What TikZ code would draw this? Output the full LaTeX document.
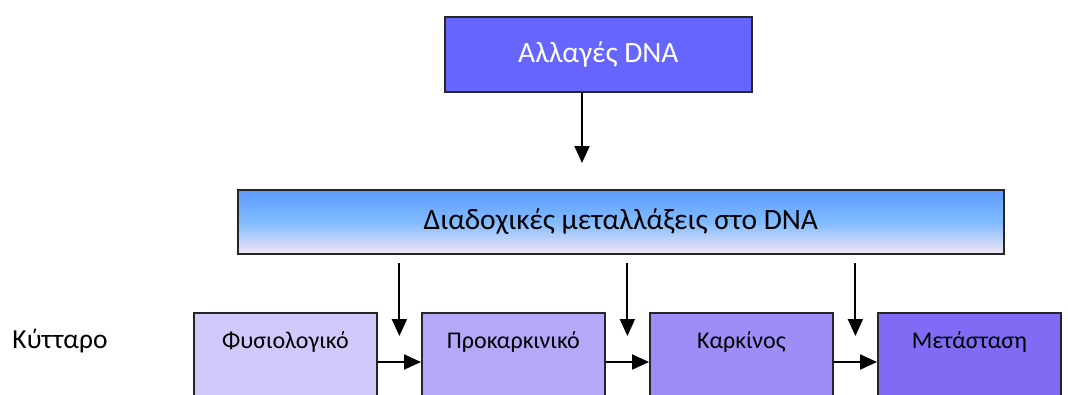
\documentclass[tikz,border=0pt]{standalone}
\usepackage{fontspec}
\setmainfont{Carlito}
\usetikzlibrary{arrows.meta,calc}

\definecolor{topblue}{HTML}{6666FF}
\definecolor{gradtop}{HTML}{5E9BFF}
\definecolor{gradmid}{HTML}{80BBFF}
\definecolor{gradbot}{HTML}{F3E6F5}
\definecolor{cellA}{HTML}{D1C9FB}
\definecolor{cellB}{HTML}{B4A8F8}
\definecolor{cellC}{HTML}{9C8EF6}
\definecolor{cellD}{HTML}{7F6BF4}

\tikzset{
  arr/.style={line width=2pt, -{Triangle[length=17pt,width=15pt]}},
  stagebox/.style={draw=black!85, line width=1.8pt, anchor=north west, inner sep=0pt,
    minimum width=183pt, text height=36pt, text depth=52pt, font=\fontsize{24}{28}\selectfont}
}

\begin{document}
\begin{tikzpicture}[x=1pt,y=-1pt]
  \useasboundingbox (0,0) rectangle (1068,394);
  \clip (0,0) rectangle (1068,394);

  % top box
  \node[draw=black!85, line width=1.8pt, fill=topblue, text=white, anchor=north west,
        minimum width=307pt, minimum height=75pt, inner sep=0pt,
        font=\fontsize{29.5}{32}\selectfont] (dna) at (444,16) {Αλλαγές DNA};
  \coordinate (dnatip) at (582,163);
  \draw[arr] (dna.south -| dnatip) -- (dnatip);

  % mutations bar
  \node[draw=black!85, line width=1.8pt, anchor=north west, minimum width=766pt,
        minimum height=64pt, inner sep=0pt, top color=gradtop, bottom color=gradbot,
        middle color=gradmid, font=\fontsize{29.5}{32}\selectfont] (mut) at (237,189)
        {Διαδοχικές μεταλλάξεις στο DNA};

  % cell stages
  \node[font=\fontsize{27.5}{30}\selectfont] (cell) at (60,341) {Κύτταρο};
  \node[stagebox, fill=cellA] (s1) at (193,312) {Φυσιολογικό};
  \node[stagebox, fill=cellB] (s2) at (421,312) {Προκαρκινικό};
  \node[stagebox, fill=cellC] (s3) at (649,312) {Καρκίνος};
  \node[stagebox, fill=cellD] (s4) at (877,312) {Μετάσταση};

  \coordinate (hrow) at (0,362);
  \coordinate (vtop) at (0,263);
  \coordinate (vend) at (0,336);
  \foreach \a/\b in {s1/s2, s2/s3, s3/s4}{
    \draw[arr] (\a.east |- hrow) -- (\b.west |- hrow);
    \coordinate (mid) at ($(\a.east)!0.5!(\b.west)$);
    \draw[arr] (mid |- vtop) -- (mid |- vend);
  }

\end{tikzpicture}
\end{document}
